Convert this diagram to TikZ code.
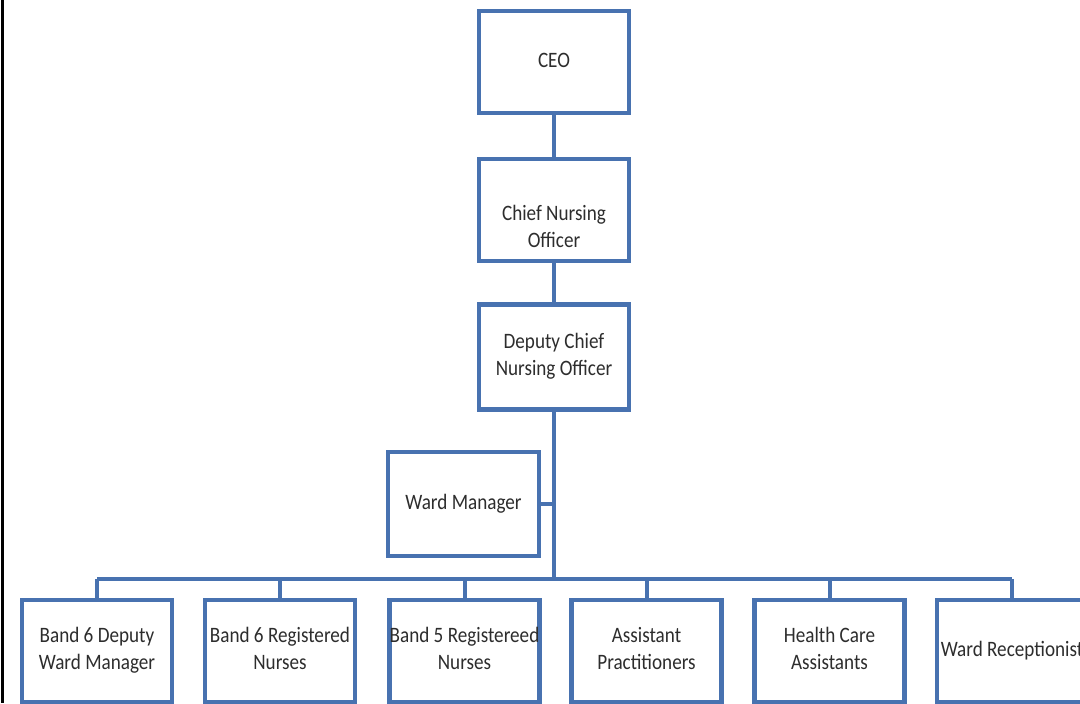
\documentclass[tikz,border=0pt]{standalone}
\usepackage{fontspec}
\setmainfont{Carlito}
\usepackage{graphicx}
\definecolor{orgblue}{RGB}{72,114,176}
\definecolor{txtgray}{RGB}{45,45,45}
\newcommand{\lbl}[1]{\scalebox{0.87}[1]{\begin{tabular}{@{}c@{}}#1\end{tabular}}}
\begin{document}
\begin{tikzpicture}[x=0.75pt,y=-0.75pt,
  orgbox/.style={draw=orgblue,line width=3.6pt,fill=white,rectangle,
    minimum width=150*0.75pt,minimum height=102*0.75pt,inner sep=0pt,
    text=txtgray,font=\fontsize{16.5}{20.2}\selectfont},
  lbltext/.style={inner sep=0pt,text=txtgray,font=\fontsize{16.5}{20.2}\selectfont},
  conn/.style={draw=orgblue,line width=3pt}]
\useasboundingbox (0,0) rectangle (1080,703);
\clip (0,0) rectangle (1080,703);
\fill[white] (0,0) rectangle (1080,703);
\draw[black,line width=2.4pt] (2.5,0) -- (2.5,703);
% nodes
\node[orgbox] (ceo) at (554,62) {\lbl{CEO}};
\node[orgbox] (cno) at (554,210) {};
\node[lbltext] (cnot) at (554,229) {\lbl{Chief Nursing\\Officer}};
\node[orgbox,minimum height=105*0.75pt] (dcno) at (554,357) {\lbl{Deputy Chief\\Nursing Officer}};
\node[orgbox,minimum width=151*0.75pt,minimum height=104*0.75pt] (wm) at (463.5,504) {\lbl{Ward Manager}};
\coordinate (bar) at (554,579);
\node[orgbox] (b1) at (97,651) {\lbl{Band 6 Deputy\\Ward Manager}};
\node[orgbox] (b2) at (280,651) {\lbl{Band 6 Registered\\Nurses}};
\node[orgbox] (b3) at (464.5,651) {\lbl{Band 5 Registereed\\Nurses}};
\node[orgbox] (b4) at (646.5,651) {\lbl{Assistant\\Practitioners}};
\node[orgbox] (b5) at (829.5,651) {\lbl{Health Care\\Assistants}};
\node[orgbox] (b6) at (1012,651) {\lbl{Ward Receptionist}};
% connectors
\begin{scope}[on background layer/.style={}]
\end{scope}
\draw[conn] (ceo.south) -- (cno.north);
\draw[conn] (cno.south) -- (dcno.north);
\draw[conn] (dcno.south) -- (bar);
\draw[conn] (wm.east) -- (wm.east -| dcno.south);
\draw[conn] (b1.north |- bar) -- (b6.north |- bar);
\foreach \b in {b1,b2,b3,b4,b5,b6} {\draw[conn] (\b.north |- bar) -- (\b.north);}
\end{tikzpicture}
\end{document}
